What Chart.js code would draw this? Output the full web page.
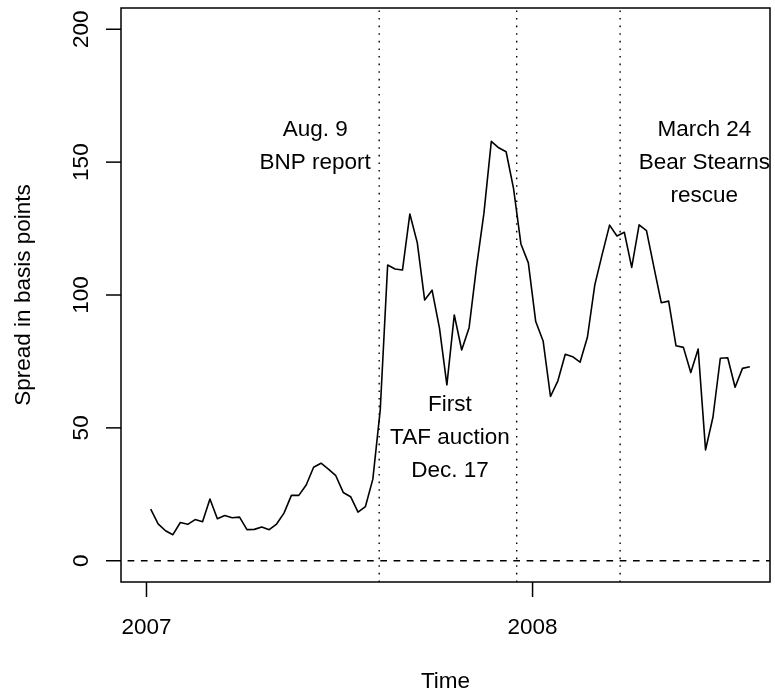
<!DOCTYPE html>
<html>
<head>
<meta charset="utf-8">
<title>Spread in basis points</title>
<script src="https://cdn.jsdelivr.net/npm/chart.js@4.4.1/dist/chart.umd.min.js"></script>
<style>
  html, body { margin: 0; padding: 0; background: #fff; }
  #chart { display: block; }
</style>
</head>
<body>
<canvas id="chart" width="775" height="692"></canvas>
<script>
// weekly observations, first one on Friday 5 Jan 2007
const firstWeek = [2007, 0, 5];
const spread = [
    19.4, 13.9, 11.3, 9.8, 14.4, 13.7, 15.5, 14.7, 23.2, 15.8,
    17.0, 16.2, 16.4, 11.7, 11.8, 12.7, 11.7, 13.8, 17.9, 24.6,
    24.6, 28.5, 35.2, 36.7, 34.5, 32.0, 25.7, 24.1, 18.3, 20.4,
    30.7, 56.8, 111.3, 109.8, 109.4, 130.5, 119.7, 98.1, 101.8, 87.5,
    66.2, 92.5, 79.3, 87.7, 110.6, 130.7, 157.8, 155.4, 153.9, 140.1,
    119.2, 112.1, 90.0, 82.7, 61.8, 67.7, 77.7, 76.8, 74.7, 84.1,
    103.8, 115.3, 126.3, 122.2, 123.6, 110.4, 126.4, 124.2, 110.6, 97.1,
    97.7, 80.9, 80.3, 70.8, 79.7, 41.7, 54.0, 76.2, 76.4, 65.3,
    72.4, 73.0
];
const xTicks = [2007, 2008];
const yTicks = [0, 50, 100, 150, 200];
const eventDates = [[2007, 7, 9], [2007, 11, 17], [2008, 2, 24]];
const eventText = [
    ['Aug. 9', 'BNP report'],
    ['First', 'TAF auction', 'Dec. 17'],
    ['March 24', 'Bear Stearns', 'rescue']
];
// where each text block is centred, in axis units
const textSpots = [
    { x: 2007.437, y: 156.6 },
    { x: 2007.786, y: 47.0 },
    { x: 2008.445, y: 150.4 }
];

const X_MIN = 2006.934, X_MAX = 2008.615;
const Y_MIN = -8, Y_MAX = 208;
const FONT = '22.5px "Liberation Sans", Arial, sans-serif';
const LINE_GAP = 33;

function decYear(y, m, d) {
    const start = Date.UTC(y, 0, 1);
    const end = Date.UTC(y + 1, 0, 1);
    return y + (Date.UTC(y, m, d) - start) / (end - start);
}

function weekToYear(i) {
    const t = new Date(Date.UTC(firstWeek[0], firstWeek[1], firstWeek[2]) + i * 7 * 86400000);
    return decYear(t.getUTCFullYear(), t.getUTCMonth(), t.getUTCDate());
}

const spreadPoints = spread.map((v, i) => ({ x: weekToYear(i), y: v }));
const eventYears = eventDates.map(d => decYear(d[0], d[1], d[2]));

const datasets = [{
    data: spreadPoints,
    borderColor: '#000',
    borderWidth: 1.6,
    borderJoinStyle: 'round',
    pointRadius: 0,
    tension: 0
}, {
    data: [{ x: X_MIN, y: 0 }, { x: X_MAX, y: 0 }],
    borderColor: '#000',
    borderWidth: 1.4,
    borderDash: [6.7, 6.6],
    borderDashOffset: 6.7,
    pointRadius: 0
}];

eventYears.forEach(ev => {
    datasets.push({
        data: [{ x: ev, y: Y_MIN }, { x: ev, y: Y_MAX }],
        borderColor: '#000',
        borderWidth: 1.4,
        borderDash: [1.6, 6],
        pointRadius: 0
    });
});

// R style frame, ticks and labels
const rFrame = {
    id: 'rFrame',
    afterDraw(chart) {
        const { ctx, chartArea: a } = chart;
        const xs = chart.scales.x, ys = chart.scales.y;
        ctx.save();
        ctx.strokeStyle = '#000';
        ctx.fillStyle = '#000';
        ctx.lineWidth = 1.5;
        ctx.strokeRect(a.left, a.top, a.right - a.left, a.bottom - a.top);

        ctx.font = FONT;
        ctx.textAlign = 'center';
        ctx.textBaseline = 'alphabetic';

        xTicks.forEach(t => {
            const px = xs.getPixelForValue(t);
            ctx.beginPath();
            ctx.moveTo(px, a.bottom);
            ctx.lineTo(px, a.bottom + 15);
            ctx.stroke();
            ctx.fillText(String(t), px, a.bottom + 52);
        });

        yTicks.forEach(t => {
            const py = ys.getPixelForValue(t);
            ctx.beginPath();
            ctx.moveTo(a.left - 15, py);
            ctx.lineTo(a.left, py);
            ctx.stroke();
            ctx.save();
            ctx.translate(a.left - 33.5, py);
            ctx.rotate(-Math.PI / 2);
            ctx.fillText(String(t), 0, 0);
            ctx.restore();
        });

        ctx.fillText('Time', (a.left + a.right) / 2, a.bottom + 106);
        ctx.save();
        ctx.translate(a.left - 91, (a.top + a.bottom) / 2);
        ctx.rotate(-Math.PI / 2);
        ctx.fillText('Spread in basis points', 0, 0);
        ctx.restore();

        eventText.forEach((lines, k) => {
            const cx = xs.getPixelForValue(textSpots[k].x);
            const cy = ys.getPixelForValue(textSpots[k].y);
            const top = cy - (lines.length - 1) * LINE_GAP / 2;
            lines.forEach((s, j) => {
                ctx.fillText(s, cx, top + j * LINE_GAP + 8);
            });
        });
        ctx.restore();
    }
};

new Chart(document.getElementById('chart'), {
    type: 'line',
    data: { datasets: datasets },
    options: {
        responsive: false,
        animation: false,
        parsing: true,
        layout: { padding: { left: 121, right: 5, top: 8, bottom: 110 } },
        scales: {
            x: { type: 'linear', min: X_MIN, max: X_MAX, display: false },
            y: { type: 'linear', min: Y_MIN, max: Y_MAX, display: false }
        },
        plugins: {
            legend: { display: false },
            tooltip: { enabled: false }
        }
    },
    plugins: [rFrame]
});
</script>
</body>
</html>
